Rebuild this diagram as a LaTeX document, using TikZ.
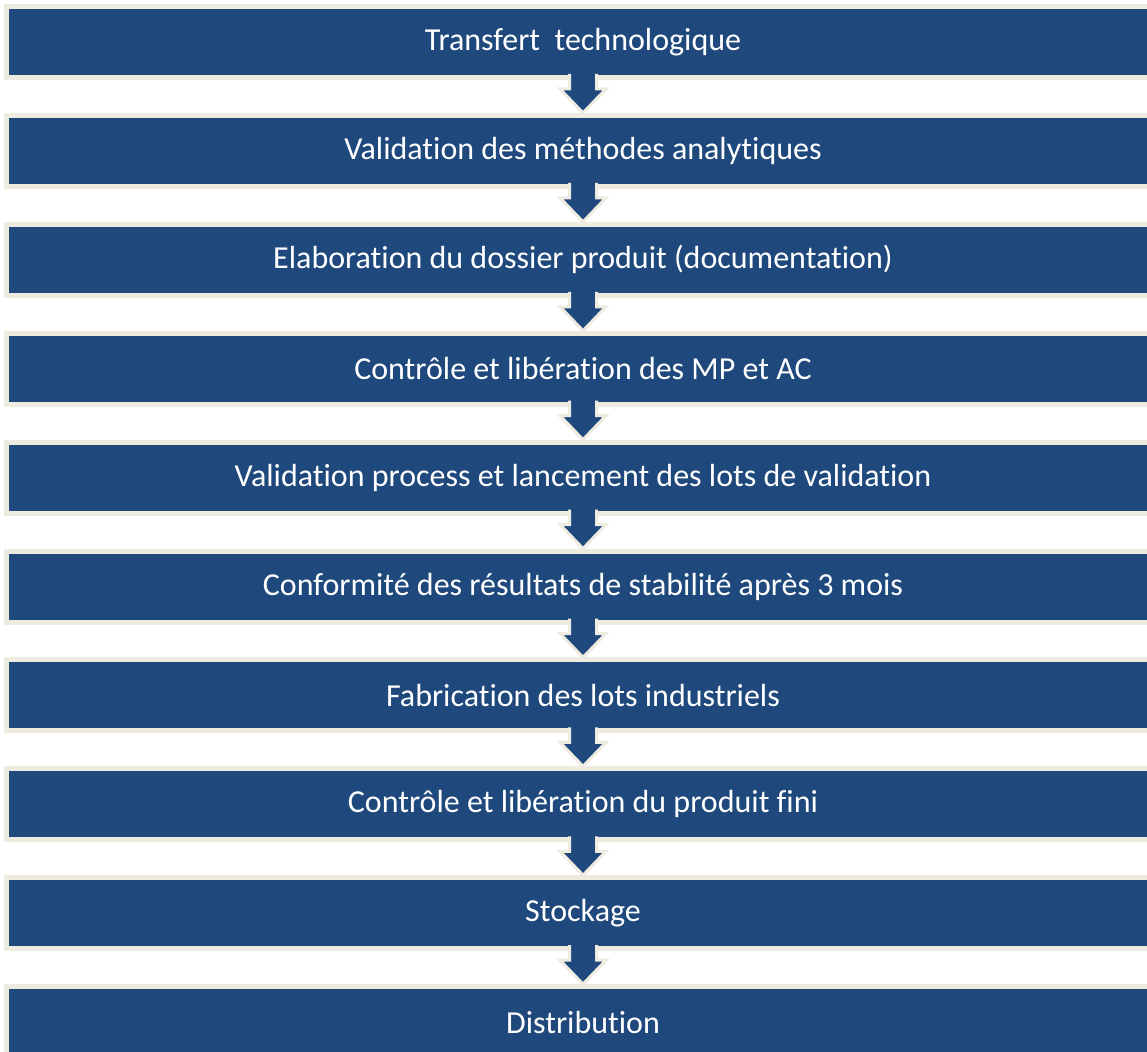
\documentclass[tikz,border=0pt]{standalone}
\usepackage{fontspec}
\setmainfont{Carlito}[Ligatures=NoCommon]
\usetikzlibrary{positioning,calc}
\definecolor{stepblue}{RGB}{31,73,125}
\definecolor{stepbeige}{RGB}{238,236,225}
\tikzset{
  stepbox/.style={draw=stepbeige, line width=5pt, fill=stepblue, text=white,
                  minimum width=1153pt, minimum height=71pt, inner sep=0pt,
                  font=\fontsize{32}{36}\selectfont},
  blockarrow/.style={fill=stepblue, draw=stepbeige, line width=3pt, line join=miter},
}
% block arrow from the bottom of one box to the top of the next
\newcommand{\steparrow}[2]{%
  \filldraw[blockarrow]
    ($(#1.south)+(-13.5pt,6pt)$) -- ($(#1.south)+(-13.5pt,-9pt)$)
    -- ($(#1.south)+(-23pt,-9pt)$) -- (#2.north)
    -- ($(#1.south)+(23pt,-9pt)$) -- ($(#1.south)+(13.5pt,-9pt)$)
    -- ($(#1.south)+(13.5pt,6pt)$);
}
\begin{document}
\begin{tikzpicture}[node distance=32.9pt]
  \useasboundingbox[fill=white] (0,0) rectangle (1147pt,-1051pt);
  \clip (0,0) rectangle (1147pt,-1051pt);
  \node[stepbox] (s1) at (583pt,-42pt) {Transfert\ \ technologique};
  \node[stepbox, below=of s1] (s2) {Validation des méthodes analytiques};
  \node[stepbox, below=of s2] (s3) {Elaboration du dossier produit (documentation)};
  \node[stepbox, below=of s3] (s4) {Contrôle et libération des MP et AC};
  \node[stepbox, below=of s4] (s5) {Validation process et lancement des lots de validation};
  \node[stepbox, below=of s5] (s6) {Conformité des résultats de stabilité après 3 mois};
  \node[stepbox, below=of s6] (s7) {Fabrication des lots industriels};
  \node[stepbox, below=of s7] (s8) {Contrôle et libération du produit fini};
  \node[stepbox, below=of s8] (s9) {Stockage};
  \node[stepbox, below=of s9] (s10) {Distribution};

  \foreach \a/\b in {s1/s2,s2/s3,s3/s4,s4/s5,s5/s6,s6/s7,s7/s8,s8/s9,s9/s10}
    {\steparrow{\a}{\b}}
\end{tikzpicture}
\end{document}
